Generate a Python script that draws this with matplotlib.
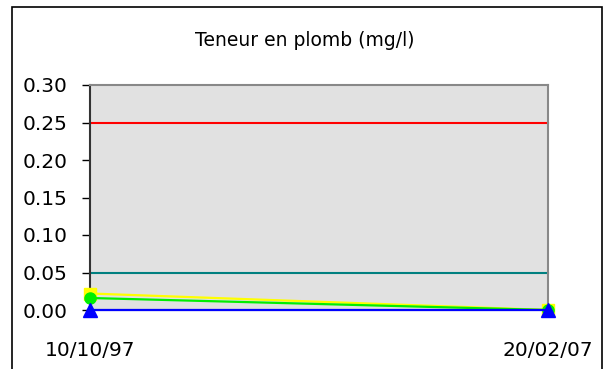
import numpy as np
import matplotlib.pyplot as plt
from matplotlib.patches import Rectangle

dates = ["10/10/97", "20/02/07"]
seuil_250 = [0.25, 0.25]
seuil_050 = [0.05, 0.05]
serie_jaune = [0.022, 0.0]
serie_verte = [0.016, 0.0]
serie_bleue = [0.0, 0.0]
yticks = [0.00, 0.05, 0.10, 0.15, 0.20, 0.25, 0.30]

x = np.arange(len(dates))

fig = plt.figure(figsize=(6.09, 3.69), dpi=100)
ax = fig.add_axes([90 / 609, 1 - 310 / 369, 458 / 609, 225 / 369])
ax.set_facecolor("#e1e1e1")

# outer chart border
fig.patches.append(Rectangle((11.5 / 609, -0.05), 590.5 / 609, 1.05 - 6.5 / 369,
                             transform=fig.transFigure, fill=False,
                             edgecolor="black", linewidth=1.2))

ax.plot(x, seuil_250, color="#ff0000", linewidth=1.5, clip_on=False)
ax.plot(x, seuil_050, color="#008080", linewidth=1.5, clip_on=False)
ax.plot(x, serie_jaune, color="#ffff00", linewidth=1.6, marker="s",
        markersize=8, clip_on=False, zorder=3)
ax.plot(x, serie_verte, color="#00ee00", linewidth=1.6, marker="o",
        markersize=8, clip_on=False, zorder=4)
ax.plot(x, serie_bleue, color="#0000ff", linewidth=1.6, marker="^",
        markersize=10, clip_on=False, zorder=5)

ax.set_xlim(0, 1)
ax.set_ylim(0, 0.30)
ax.set_yticks(yticks)
ax.set_yticklabels(["%.2f" % v for v in yticks], fontsize=14.5)
ax.set_xticks(x)
ax.set_xticklabels(dates, fontsize=14.5)
ax.tick_params(axis="y", length=6, width=1, color="black", pad=10)
ax.tick_params(axis="x", length=4, width=1, color="#404040", pad=18)

for side in ["top", "right", "bottom"]:
    ax.spines[side].set_color("#888888")
    ax.spines[side].set_linewidth(1.5)
ax.spines["left"].set_color("#333333")
ax.spines["left"].set_linewidth(1.5)

fig.text(305 / 609, 1 - 40 / 369, "Teneur en plomb (mg/l)", fontsize=13.5,
         ha="center", va="center")

plt.savefig("out.png", dpi=100)
